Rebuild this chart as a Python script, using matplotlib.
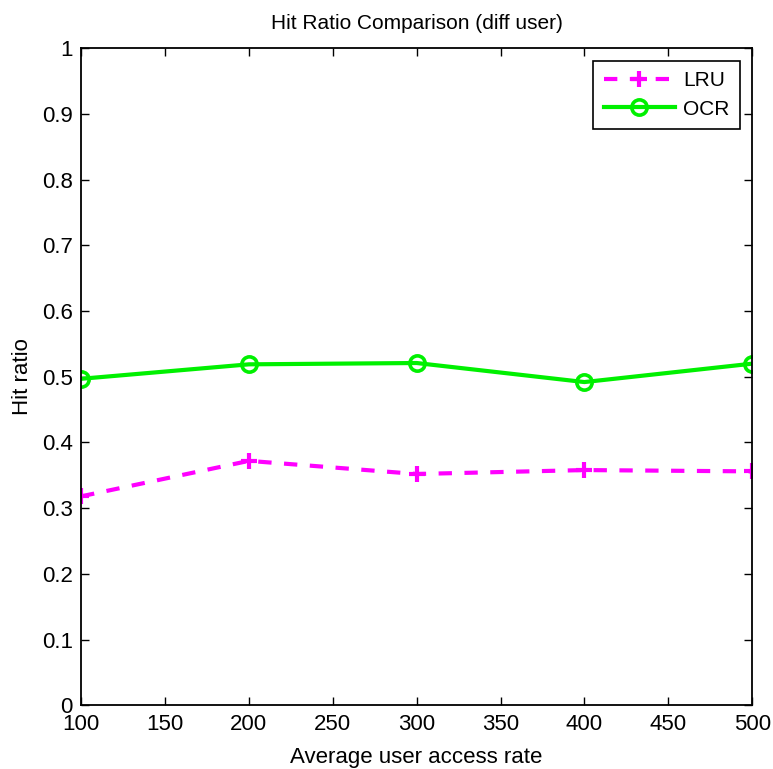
import matplotlib
matplotlib.use("Agg")
import matplotlib.pyplot as plt
import numpy as np

plt.rcParams['font.family'] = ['Liberation Sans', 'DejaVu Sans']

# data
rates = [100, 200, 300, 400, 500]
lru = [0.318, 0.372, 0.352, 0.358, 0.356]
ocr = [0.497, 0.519, 0.521, 0.492, 0.520]

xticks = np.arange(100, 501, 50)
yticks = np.arange(0, 1.01, 0.1)


fig = plt.figure(figsize=(7.73, 7.69), dpi=100)
ax = fig.add_axes([0.105, 0.083, 0.868, 0.854])

ax.plot(rates, lru, ls=(0, (3.2, 3.0)), c='#ff00ff', lw=3, marker='+',
        ms=12, mew=3, label='LRU')
ax.plot(rates, ocr, ls='-', c='#00f000', lw=3, marker='o', ms=11,
        mfc='none', mew=2.6, label='OCR')

ax.set_xlim(100, 500)
ax.set_ylim(0, 1)
ax.set_xticks(xticks)
ax.set_yticks(yticks)
ax.set_yticklabels(['0'] + [f"{v:.1f}" for v in yticks[1:-1]] + ['1'])

ax.tick_params(direction='in', top=True, right=True, labelsize=16, length=6,
               width=1, pad=6)
for sp in ax.spines.values():
    sp.set_linewidth(1.3)

ax.set_xlabel("Average user access rate", fontsize=16, labelpad=9)
ax.set_ylabel("Hit ratio", fontsize=16, labelpad=6)
ax.set_title("Hit Ratio Comparison (diff user)", fontsize=15, pad=14)

leg = ax.legend(loc='upper right', fontsize=15, handlelength=3.4,
                fancybox=False, edgecolor='black', framealpha=1,
                borderaxespad=0.6, labelspacing=0.45, handletextpad=0.4,
                borderpad=0.5)
leg.get_frame().set_linewidth(1.2)

fig.savefig("out.png", dpi=100)
